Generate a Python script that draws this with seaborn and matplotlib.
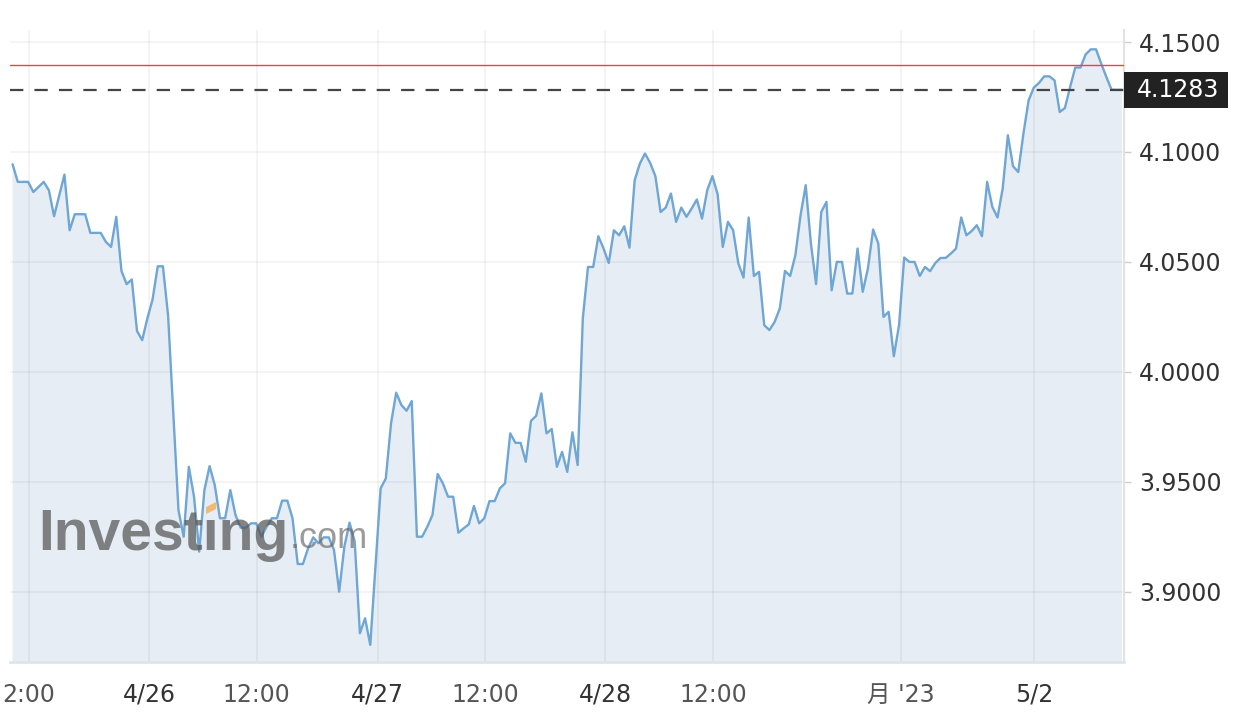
import numpy as np
import pandas as pd
import matplotlib
matplotlib.use("Agg")
import matplotlib.pyplot as plt
from matplotlib.patches import Rectangle, Polygon
import seaborn as sns

# bar index (30 min bars, gaps skipped) and price at each turning point
bars = [0, 1, 3, 4, 6, 7, 8, 10, 11, 12, 14, 15, 17, 18, 19, 20, 21, 22, 23, 24,
        25, 26, 27, 28, 29, 30, 32, 33, 34, 35, 36, 37, 38, 39, 40, 41, 42, 43, 44, 45,
        46, 47, 48, 49, 50, 51, 52, 53, 54, 55, 56, 57, 58, 59, 60, 61, 62, 63, 64, 65,
        66, 67, 68, 69, 71, 72, 73, 74, 75, 76, 77, 78, 79, 80, 81, 82, 83, 84, 85, 86,
        87, 88, 89, 90, 91, 92, 93, 94, 95, 96, 97, 98, 99, 100, 101, 102, 103, 104, 105, 106,
        107, 108, 109, 110, 111, 112, 113, 114, 115, 116, 117, 118, 119, 120, 121, 122, 123, 124, 125, 126,
        127, 128, 129, 130, 131, 132, 133, 134, 135, 136, 137, 138, 139, 140, 141, 142, 143, 144, 145, 146,
        147, 148, 149, 150, 151, 152, 153, 154, 155, 156, 157, 158, 159, 160, 161, 162, 163, 164, 165, 166,
        167, 168, 169, 170, 171, 172, 173, 174, 175, 176, 177, 178, 179, 180, 181, 182, 183, 184, 185, 186,
        187, 188, 189, 190, 191, 192, 193, 194, 195, 196, 197, 198, 199, 200, 201, 202, 203, 204, 205, 206,
        207, 208, 209, 210, 211, 212, 214]
price = [4.0944, 4.0864, 4.0864, 4.0818, 4.0864, 4.0826, 4.0708, 4.0897, 4.0644, 4.0717,
         4.0717, 4.0632, 4.0632, 4.0591, 4.0568, 4.0705, 4.0459, 4.0399, 4.0420, 4.0186,
         4.0144, 4.0243, 4.0329, 4.0480, 4.0480, 4.0255, 3.9371, 3.9250, 3.9568, 3.9432,
         3.9182, 3.9462, 3.9571, 3.9485, 3.9334, 3.9334, 3.9462, 3.9349, 3.9291, 3.9291,
         3.9311, 3.9311, 3.9250, 3.9295, 3.9334, 3.9334, 3.9414, 3.9414, 3.9334, 3.9126,
         3.9126, 3.9197, 3.9247, 3.9220, 3.9247, 3.9247, 3.9190, 3.9000, 3.9205, 3.9314,
         3.9227, 3.8811, 3.8879, 3.8758, 3.9470, 3.9515, 3.9765, 3.9905, 3.9849, 3.9823,
         3.9867, 3.9250, 3.9250, 3.9295, 3.9349, 3.9535, 3.9493, 3.9432, 3.9432, 3.9268,
         3.9288, 3.9306, 3.9390, 3.9311, 3.9334, 3.9412, 3.9412, 3.9470, 3.9493, 3.9720,
         3.9677, 3.9677, 3.9591, 3.9777, 3.9800, 3.9902, 3.9720, 3.9740, 3.9568, 3.9636,
         3.9545, 3.9725, 3.9576, 4.0243, 4.0477, 4.0477, 4.0617, 4.0561, 4.0495, 4.0644,
         4.0621, 4.0662, 4.0565, 4.0871, 4.0947, 4.0993, 4.0950, 4.0890, 4.0727, 4.0747,
         4.0811, 4.0682, 4.0747, 4.0705, 4.0743, 4.0784, 4.0697, 4.0826, 4.0890, 4.0808,
         4.0568, 4.0682, 4.0644, 4.0493, 4.0429, 4.0702, 4.0436, 4.0455, 4.0212, 4.0190,
         4.0227, 4.0288, 4.0459, 4.0436, 4.0530, 4.0712, 4.0849, 4.0584, 4.0399, 4.0727,
         4.0773, 4.0371, 4.0500, 4.0500, 4.0356, 4.0356, 4.0561, 4.0364, 4.0470, 4.0647,
         4.0584, 4.0250, 4.0273, 4.0071, 4.0212, 4.0520, 4.0500, 4.0500, 4.0436, 4.0477,
         4.0458, 4.0495, 4.0518, 4.0518, 4.0538, 4.0561, 4.0702, 4.0621, 4.0640, 4.0667,
         4.0617, 4.0864, 4.0750, 4.0702, 4.0834, 4.1076, 4.0935, 4.0909, 4.1084, 4.1235,
         4.1293, 4.1314, 4.1344, 4.1344, 4.1326, 4.1182, 4.1200, 4.1295, 4.1384, 4.1384,
         4.1444, 4.1467, 4.1467, 4.1402, 4.1341, 4.1283, 4.1283]

tick_bars = [3.15, 26.3, 47.1, 70.4, 91.1, 114.3, 135.2, 171.4, 197.1]
tick_labels = ["2:00", "4/26", "12:00", "4/27", "12:00", "4/28", "12:00", "月 '23", "5/2"]
y_ticks = [3.90, 3.95, 4.00, 4.05, 4.10, 4.15]
last_price = 4.1283
ref_price = 4.1395

sns.set_style("white")
plt.rcParams['font.family'] = ['DejaVu Sans', 'Noto Sans CJK JP']

df = pd.DataFrame({"bar": bars, "price": price})

fig = plt.figure(figsize=(12.5, 7.24), dpi=100)
ax = fig.add_axes([0.008, 0.0856, 0.8912, 0.873])

ax.fill_between(df["bar"], df["price"], 3.8, color="#e6edf5", lw=0, zorder=1)
sns.lineplot(data=df, x="bar", y="price", ax=ax, color="#6fa6d4", linewidth=1.7,
             sort=False, estimator=None, zorder=3)

ax.axhline(ref_price, color="#ff3b3b", lw=1, zorder=4)
ax.axhline(last_price, color="#444444", lw=1.6, ls=(0, (6, 5)), zorder=4)

ax.set_xlim(-0.5, 214.4)
ax.set_ylim(3.868, 4.1555)
ax.yaxis.tick_right()
ax.set_yticks(y_ticks)
ax.set_yticklabels([f"{v:.4f}" for v in y_ticks])
ax.set_xticks(tick_bars)
ax.set_xticklabels(tick_labels)
ax.set_xlabel("")
ax.set_ylabel("")

ax.set_axisbelow("line")
ax.grid(True, color="#000000", alpha=0.045, lw=1.5)

for s in ["top", "left"]:
    ax.spines[s].set_visible(False)
ax.spines["bottom"].set_color("#dfe5ec")
ax.spines["bottom"].set_linewidth(2)
ax.spines["right"].set_color("#e2e2e2")
ax.spines["right"].set_linewidth(1.5)

ax.tick_params(axis="x", length=8, width=1.5, color="#dfe5ec", labelsize=17, pad=7)
ax.tick_params(axis="y", length=5, width=1, color="#cccccc", labelsize=17, pad=6,
               labelcolor="#333333")
for lab in ax.get_xticklabels():
    lab.set_color("#333333" if "/" in lab.get_text() else "#555555")

# last price marker on the right axis
ax.add_patch(Rectangle((1.0, last_price - 0.0081), 0.0934, 0.0162,
                       transform=ax.get_yaxis_transform(), clip_on=False,
                       facecolor="#222222", edgecolor="none", zorder=6))
ax.text(1.0115, last_price, f"{last_price:.4f}", transform=ax.get_yaxis_transform(),
        color="white", fontsize=17, va="center", ha="left", zorder=7)

# watermark (dotless i, orange accent drawn on top)
ax.text(0.0255, 0.177, "Investıng", transform=ax.transAxes, fontsize=41,
        fontweight="bold", family="Liberation Sans", color="#555555", alpha=0.72,
        va="baseline", zorder=5)
ax.add_patch(Polygon([[0.1760, 0.2342], [0.1850, 0.2421], [0.1850, 0.2532], [0.1760, 0.2453]],
                     closed=True, transform=ax.transAxes, facecolor="#f2b25c",
                     edgecolor="none", alpha=0.85, zorder=5))
ax.text(0.2513, 0.180, ".com", transform=ax.transAxes, fontsize=26,
        family="Liberation Sans", color="#666666", alpha=0.65, va="baseline", zorder=5)

fig.savefig("out.png", dpi=100)
